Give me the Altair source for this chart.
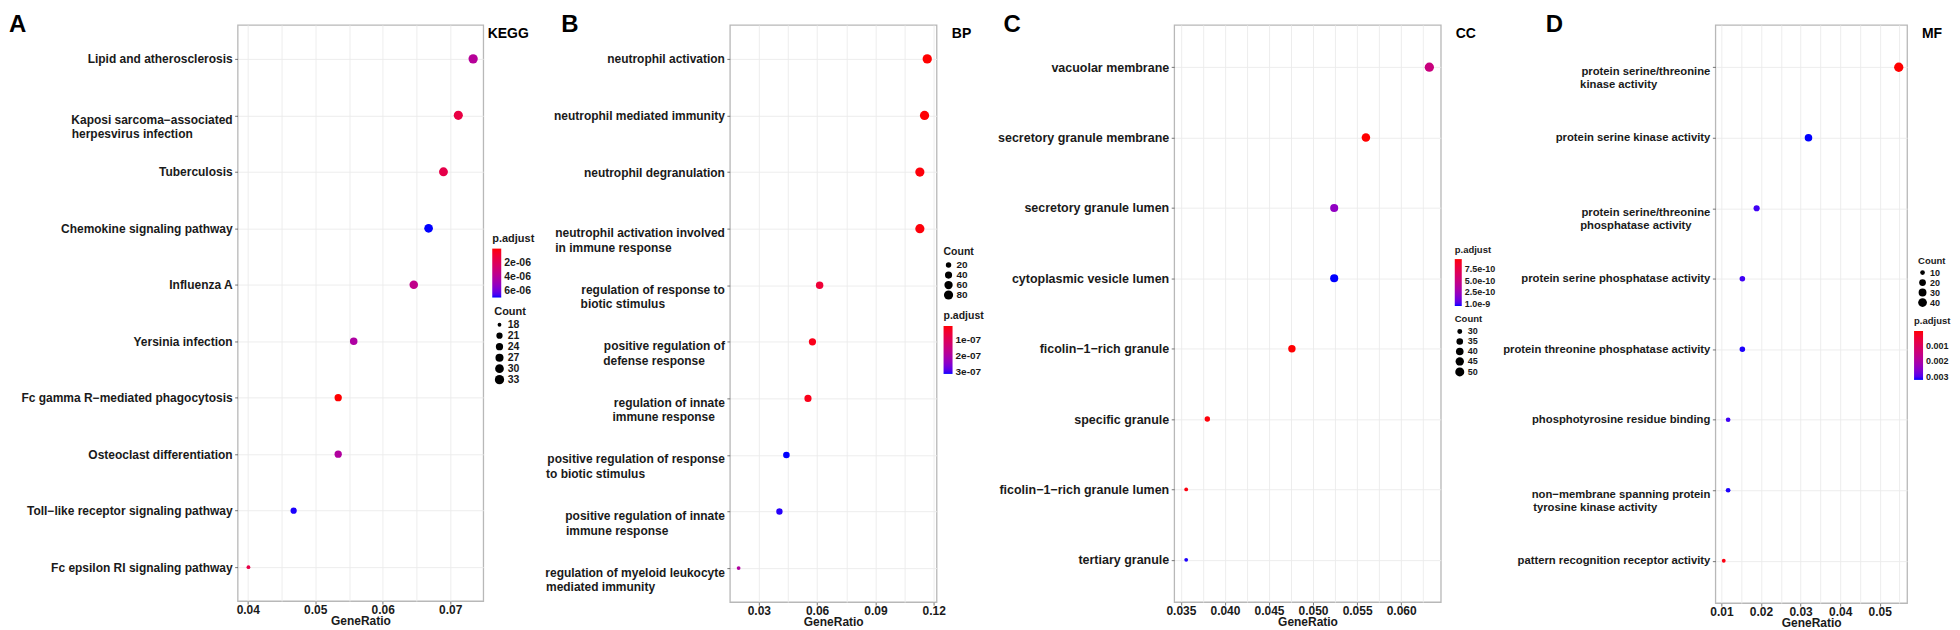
import json
import math
import altair as alt
import pandas as pd

FONT = "Liberation Sans"
INK = "#1a1a1a"
DMIN, DMAX = 4.3, 10.5  # dot diameters (px) for the smallest / largest Count

# ---------------- A : KEGG ----------------
kegg_terms = [
    "Lipid and atherosclerosis",
    "Kaposi sarcoma\u2212associated\nherpesvirus infection",
    "Tuberculosis",
    "Chemokine signaling pathway",
    "Influenza A",
    "Yersinia infection",
    "Fc gamma R\u2212mediated phagocytosis",
    "Osteoclast differentiation",
    "Toll\u2212like receptor signaling pathway",
    "Fc epsilon RI signaling pathway",
]
kegg_ratio = [0.0734, 0.0712, 0.0690, 0.0668, 0.0646, 0.0557, 0.0534, 0.0534, 0.0468, 0.0401]
kegg_count = [33, 32, 31, 30, 29, 25, 24, 24, 21, 18]
kegg_padj = [3.9e-6, 1.4e-6, 1.6e-6, 6.84e-6, 3.5e-6, 4.2e-6, 4e-8, 4.1e-6, 6.78e-6, 1.5e-6]
kegg_x_major = [0.04, 0.05, 0.06, 0.07]
kegg_x_minor = [0.045, 0.055, 0.065]
kegg_p_ticks = [2e-6, 4e-6, 6e-6]
kegg_n_ticks = [18, 21, 24, 27, 30, 33]

# ---------------- B : BP ----------------
bp_terms = [
    "neutrophil activation",
    "neutrophil mediated immunity",
    "neutrophil degranulation",
    "neutrophil activation involved\nin immune response",
    "regulation of response to\nbiotic stimulus",
    "positive regulation of\ndefense response",
    "regulation of innate\nimmune response",
    "positive regulation of response\nto biotic stimulus",
    "positive regulation of innate\nimmune response",
    "regulation of myeloid leukocyte\nmediated immunity",
]
bp_ratio = [0.1167, 0.1153, 0.1129, 0.1129, 0.0613, 0.0576, 0.0553, 0.0442, 0.0406, 0.0196]
bp_count = [83, 82, 80, 80, 44, 41, 40, 32, 29, 14]
bp_padj = [1.0e-8, 1.2e-8, 1.5e-8, 1.5e-8, 5.5e-8, 2.5e-8, 2.5e-8, 3.1e-7, 3.05e-7, 1.9e-7]
bp_x_major = [0.03, 0.06, 0.09, 0.12]
bp_x_minor = [0.045, 0.075, 0.105]
bp_p_ticks = [1e-7, 2e-7, 3e-7]
bp_n_ticks = [20, 40, 60, 80]

# ---------------- C : CC ----------------
cc_terms = [
    "vacuolar membrane",
    "secretory granule membrane",
    "secretory granule lumen",
    "cytoplasmic vesicle lumen",
    "ficolin\u22121\u2212rich granule",
    "specific granule",
    "ficolin\u22121\u2212rich granule lumen",
    "tertiary granule",
]
cc_ratio = [0.0632, 0.0560, 0.0524, 0.0524, 0.0476, 0.0380, 0.0356, 0.0356]
cc_count = [52, 46, 43, 43, 39, 31, 29, 29]
cc_padj = [4.9e-10, 3.6e-11, 7.9e-10, 1.04e-9, 4.0e-11, 5.0e-11, 6.0e-11, 1.03e-9]
cc_x_major = [0.035, 0.040, 0.045, 0.050, 0.055, 0.060]
cc_x_minor = [0.0375, 0.0425, 0.0475, 0.0525, 0.0575, 0.0625]
cc_p_ticks = [2.5e-10, 5e-10, 7.5e-10, 1e-9]
cc_p_labels = ["7.5e-10", "5.0e-10", "2.5e-10", "1.0e-9"]
cc_n_ticks = [30, 35, 40, 45, 50]

# ---------------- D : MF ----------------
mf_terms = [
    "protein serine/threonine\nkinase activity",
    "protein serine kinase activity",
    "protein serine/threonine\nphosphatase activity",
    "protein serine phosphatase activity",
    "protein threonine phosphatase activity",
    "phosphotyrosine residue binding",
    "non\u2212membrane spanning protein\ntyrosine kinase activity",
    "pattern recognition receptor activity",
]
mf_ratio = [0.0548, 0.0320, 0.0189, 0.0153, 0.0153, 0.0117, 0.0117, 0.0106]
mf_count = [47, 27, 16, 13, 13, 10, 10, 9]
mf_padj = [3e-5, 3.2e-3, 3.07e-3, 3.07e-3, 3.17e-3, 3.07e-3, 3.17e-3, 1.2e-4]
mf_x_major = [0.01, 0.02, 0.03, 0.04, 0.05]
mf_x_minor = [0.015, 0.025, 0.035, 0.045, 0.055]
mf_p_ticks = [0.001, 0.002, 0.003]
mf_n_ticks = [10, 20, 30, 40]

# Advance widths (1/1000 em) of Liberation Sans Bold, used only to keep the
# lines of a wrapped axis label left-aligned with each other (block layout).
_W = {" ": 278, "\u00a0": 278, "/": 278, "-": 333, "\u2212": 584, "1": 556}
_W.update(dict(zip("abcdefghijklmnopqrstuvwxyz",
                   [556, 611, 556, 611, 556, 333, 611, 611, 278, 278, 556, 278, 889,
                    611, 611, 611, 611, 389, 556, 333, 611, 556, 778, 556, 556, 500])))
_W.update(dict(zip("ABCDEFGHIJKLMNOPQRSTUVWXYZ",
                   [722, 722, 722, 722, 667, 611, 778, 722, 278, 556, 722, 611, 833,
                    722, 778, 667, 778, 722, 667, 611, 722, 667, 944, 667, 667, 611])))


def block_label(label):
    lines = label.split("\n")
    if len(lines) == 1:
        return label
    widths = [sum(_W.get(ch, 556) for ch in ln) for ln in lines]
    wmax = max(widths)
    out = []
    for ln, w in zip(lines, widths):
        k = round((wmax - w) / 278)
        # trailing no-break spaces, closed by a zero-width space so they are kept
        out.append(ln + ("\u00a0" * k + "\u200b" if k > 0 else ""))
    return "\n".join(out)


def panel(terms, ratio, count, padj, *, letter, letter_x, tag, width, height,
          x_domain, x_major, x_minor, x_fmt, p_ticks, p_label_expr, n_ticks,
          label_size, p_leg, n_leg, leg_font, grad_len, grad_thick):
    terms = [block_label(t) for t in terms]
    df = pd.DataFrame({"term": terms, "ratio": ratio, "count": count, "padj": padj})
    majors = json.dumps(x_major)
    is_major = f"indexof({majors}, datum.value) >= 0"
    pmin, pmax = min(padj), max(padj)
    cmin, cmax = min(count), max(count)
    span = DMAX - DMIN

    # ggplot-like size mapping: diameter = DMIN + sqrt(rescaled count) * span
    def sz(c):
        return (DMIN + math.sqrt((c - cmin) / (cmax - cmin)) * span) ** 2

    sz_expr = f"pow({DMIN} + sqrt((datum.count - {cmin}) / {cmax - cmin}) * {span}, 2)"
    sz_label = (f"format(round({cmin} + pow((sqrt(datum.value) - {DMIN}) / {span}, 2)"
                f" * {cmax - cmin}), 'd')")

    pts = (
        alt.Chart(df)
        .transform_calculate(negp="-datum.padj", sz=sz_expr)
        .mark_circle(opacity=1, strokeWidth=0)
        .encode(
            x=alt.X(
                "ratio:Q",
                title="GeneRatio",
                scale=alt.Scale(domain=x_domain, nice=False, zero=False),
                axis=alt.Axis(
                    values=sorted(x_major + x_minor),
                    labelExpr=f"{is_major} ? format(datum.value, '{x_fmt}') : ''",
                    tickOpacity={"condition": {"test": is_major, "value": 1}, "value": 0},
                    grid=True, gridColor="#ebebeb", gridWidth=0.9,
                    domain=False, tickSize=3, tickColor="#555555", tickWidth=0.8,
                    labelPadding=0, labelFontSize=12, labelFontWeight="bold",
                    labelColor=INK, titleFontSize=12, titleFontWeight="bold",
                    titleColor=INK, titlePadding=0, labelFlush=False,
                ),
            ),
            y=alt.Y(
                "term:N",
                sort=terms,
                title=None,
                scale=alt.Scale(padding=0.6),
                axis=alt.Axis(
                    labelExpr="split(datum.label, '\\n')",
                    labelOffset={"condition": {"test": "indexof(datum.label, '\\n') >= 0",
                                               "value": 4}, "value": 0},
                    labelFontSize=label_size, labelFontWeight="bold", labelColor=INK,
                    labelLineHeight=label_size * 1.22, labelLimit=500, labelPadding=2.5,
                    tickSize=3, tickColor="#555555", tickWidth=0.8, domain=False,
                    grid=True, gridColor="#ebebeb", gridWidth=0.9,
                ),
            ),
            color=alt.Color(
                "negp:Q",
                scale=alt.Scale(domain=[-pmax, -pmin], range=["#0000ff", "#ff0000"],
                                interpolate="lab"),
                legend=alt.Legend(
                    title="p.adjust", orient="none", legendX=p_leg[0], legendY=p_leg[1],
                    direction="vertical", values=[-v for v in p_ticks],
                    labelExpr=p_label_expr, gradientLength=grad_len,
                    gradientThickness=grad_thick, gradientStrokeWidth=0,
                    labelOverlap=False, labelBaseline="middle", labelAlign="left",
                    labelOffset=3, titlePadding=5,
                    titleFontSize=leg_font + 0.5, labelFontSize=leg_font,
                ),
            ),
            size=alt.Size(
                "sz:Q",
                scale=alt.Scale(domain=[DMIN ** 2, DMAX ** 2],
                                range=[math.pi / 4 * DMIN ** 2, math.pi / 4 * DMAX ** 2],
                                zero=False),
                legend=alt.Legend(
                    title="Count", orient="none", legendX=n_leg[0], legendY=n_leg[1],
                    values=[sz(c) for c in n_ticks], labelExpr=sz_label,
                    symbolFillColor="black", symbolStrokeColor="black",
                    symbolStrokeWidth=0, symbolOpacity=1, symbolType="circle",
                    rowPadding=0, labelOffset=3, titlePadding=3,
                    titleFontSize=leg_font + 0.5, labelFontSize=leg_font,
                ),
            ),
        )
    )
    letter_txt = (
        alt.Chart(pd.DataFrame({"t": [letter]}))
        .mark_text(align="left", baseline="alphabetic", fontSize=24, fontWeight="bold",
                   font=FONT, color="black")
        .encode(text="t:N", x=alt.value(letter_x), y=alt.value(7))
    )
    tag_txt = (
        alt.Chart(pd.DataFrame({"t": [tag]}))
        .mark_text(align="center", baseline="alphabetic", fontSize=14, fontWeight="bold",
                   font=FONT, color="black")
        .encode(text="t:N", x=alt.value(width + 25), y=alt.value(13))
    )
    return alt.layer(pts, letter_txt, tag_txt).properties(width=width, height=height)


def spacer(w, h):
    return (
        alt.Chart(pd.DataFrame({"v": [0]}))
        .mark_point(opacity=0)
        .encode(x=alt.X("v:Q", axis=None), y=alt.Y("v:Q", axis=None))
        .properties(width=w, height=h, view=alt.ViewBackground(stroke="transparent"))
    )


exp_fmt0 = "replace(format(-datum.value, '.0e'), 'e-', 'e-0')"
cc_expr = " : ".join(
    f"datum.value == {-v!r} ? '{lab}'" for v, lab in zip(cc_p_ticks, cc_p_labels)
) + " : format(-datum.value, '.1e')"

A = panel(kegg_terms, kegg_ratio, kegg_count, kegg_padj, letter="A", letter_x=-229,
          tag="KEGG", width=246, height=577, x_domain=[0.0385, 0.0749],
          x_major=kegg_x_major, x_minor=kegg_x_minor, x_fmt=".2f",
          p_ticks=kegg_p_ticks, p_label_expr=exp_fmt0, n_ticks=kegg_n_ticks,
          label_size=12, p_leg=(255, 208), n_leg=(257, 281), leg_font=10.5,
          grad_len=49, grad_thick=9)
B = panel(bp_terms, bp_ratio, bp_count, bp_padj, letter="B", letter_x=-169,
          tag="BP", width=207, height=578, x_domain=[0.0151, 0.1215],
          x_major=bp_x_major, x_minor=bp_x_minor, x_fmt=".2f",
          p_ticks=bp_p_ticks, p_label_expr=exp_fmt0, n_ticks=bp_n_ticks,
          label_size=12, p_leg=(214, 286), n_leg=(214, 222), leg_font=10,
          grad_len=48, grad_thick=9)
C = panel(cc_terms, cc_ratio, cc_count, cc_padj, letter="C", letter_x=-171,
          tag="CC", width=267, height=578, x_domain=[0.03424, 0.0645],
          x_major=cc_x_major, x_minor=cc_x_minor, x_fmt=".3f",
          p_ticks=cc_p_ticks, p_label_expr=cc_expr, n_ticks=cc_n_ticks,
          label_size=12.5, p_leg=(281, 220), n_leg=(281, 290), leg_font=9,
          grad_len=47, grad_thick=7)
D = panel(mf_terms, mf_ratio, mf_count, mf_padj, letter="D", letter_x=-170,
          tag="MF", width=192, height=579, x_domain=[0.00848, 0.0569],
          x_major=mf_x_major, x_minor=mf_x_minor, x_fmt=".2f",
          p_ticks=mf_p_ticks, p_label_expr="format(-datum.value, '.3f')", n_ticks=mf_n_ticks,
          label_size=11.3, p_leg=(199, 292), n_leg=(203, 231), leg_font=9,
          grad_len=49, grad_thick=9)

chart = (
    alt.hconcat(A, spacer(247, 577), B, spacer(238, 577), C, spacer(275, 577), D,
                spacing=0, bounds="flush")
    .resolve_scale(x="independent", y="independent", color="independent", size="independent")
    .resolve_legend(color="independent", size="independent")
    .properties(padding={"left": 0, "top": 3.5, "right": 0, "bottom": 0})
    .configure(font=FONT)
    .configure_view(stroke="#b8b8b8", strokeWidth=1.3)
    .configure_legend(titleFontWeight="bold", labelFontWeight="bold",
                      titleColor=INK, labelColor=INK, titleFont=FONT, labelFont=FONT)
    .configure_axis(labelFont=FONT, titleFont=FONT)
)

chart.save("out.html", embed_options={"renderer": "svg", "actions": False})
